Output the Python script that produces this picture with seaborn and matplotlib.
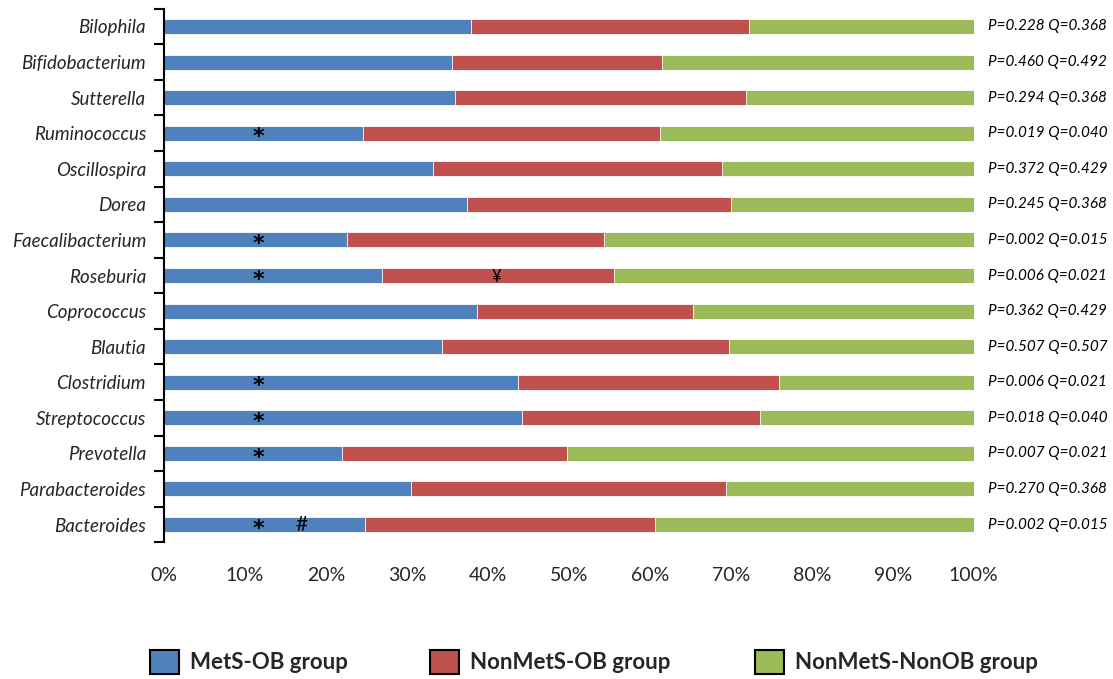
import pandas as pd
import matplotlib.pyplot as plt
import matplotlib.patches as mpatches
from matplotlib.ticker import FixedLocator
import seaborn as sns

# relative abundance (%) of each genus across the three groups
genera = ["Bilophila", "Bifidobacterium", "Sutterella", "Ruminococcus", "Oscillospira",
          "Dorea", "Faecalibacterium", "Roseburia", "Coprococcus", "Blautia",
          "Clostridium", "Streptococcus", "Prevotella", "Parabacteroides", "Bacteroides"]
mets_ob = [37.9, 35.6, 35.9, 24.6, 33.2, 37.4, 22.6, 26.9, 38.6, 34.3, 43.7, 44.2, 22.0, 30.5, 24.8]
nonmets_ob = [34.4, 25.9, 36.0, 36.7, 35.7, 32.6, 31.7, 28.7, 26.7, 35.5, 32.2, 29.4, 27.8, 38.9, 35.8]
nonmets_nonob = [27.7, 38.5, 28.1, 38.7, 31.1, 30.0, 45.7, 44.4, 34.7, 30.2, 24.1, 26.4, 50.2, 30.6, 39.4]
p_values = ["0.228", "0.460", "0.294", "0.019", "0.372", "0.245", "0.002", "0.006",
            "0.362", "0.507", "0.006", "0.018", "0.007", "0.270", "0.002"]
q_values = ["0.368", "0.492", "0.368", "0.040", "0.429", "0.368", "0.015", "0.021",
            "0.429", "0.507", "0.021", "0.040", "0.021", "0.368", "0.015"]
star_marks = [0, 0, 0, 1, 0, 0, 1, 1, 0, 0, 1, 1, 1, 0, 1]
hash_marks = [0, 0, 0, 0, 0, 0, 0, 0, 0, 0, 0, 0, 0, 0, 1]
yen_marks = [0, 0, 0, 0, 0, 0, 0, 1, 0, 0, 0, 0, 0, 0, 0]

groups = ["MetS-OB group", "NonMetS-OB group", "NonMetS-NonOB group"]
colors = ["#4F81BD", "#C0504D", "#9BBB59"]

df = pd.DataFrame({"genus": genera, "mets_ob": mets_ob,
                   "nonmets_ob": nonmets_ob, "nonmets_nonob": nonmets_nonob})
df["cum_red"] = df["mets_ob"] + df["nonmets_ob"]
df["cum_green"] = df["cum_red"] + df["nonmets_nonob"]

sns.set_theme(style="white")
plt.rcParams["font.family"] = ["Lato", "DejaVu Sans"]

fig = plt.figure(figsize=(11.13, 6.79), dpi=100)
ax = fig.add_axes([0.1474, 0.2013, 0.7274, 0.7859])

# stacked bars: draw cumulative totals back to front
for col, c in zip(["cum_green", "cum_red", "mets_ob"], colors[::-1]):
    sns.barplot(data=df, x=col, y="genus", orient="h", color=c, saturation=1,
                width=0.42, edgecolor="white", linewidth=0.6, ax=ax)

ax.set_xlim(0, 100)
ax.set_ylim(len(genera) - 0.5, -0.5)
ax.set_xlabel("")
ax.set_ylabel("")
ax.set_xticks(range(0, 101, 10))
ax.set_xticklabels([f"{v}%" for v in range(0, 101, 10)], fontsize=14)
ax.set_yticks(range(len(genera)))
ax.set_yticklabels(genera, fontsize=13.5, style="italic")
ax.yaxis.set_minor_locator(FixedLocator([i - 0.5 for i in range(len(genera) + 1)]))
ax.tick_params(axis="x", length=0, pad=18)
ax.tick_params(axis="y", which="major", length=0, pad=13)
ax.tick_params(axis="y", which="minor", left=True, length=7, width=1.5, color="black", direction="out")

for s in ["top", "right", "bottom"]:
    ax.spines[s].set_visible(False)
ax.spines["left"].set_color("black")
ax.spines["left"].set_linewidth(1.5)

# significance marks
for i in range(len(genera)):
    if star_marks[i]:
        ax.text(11.6, i + 0.12, "*", ha="center", va="center", fontsize=16,
                fontweight="bold", color="black", family="DejaVu Sans")
    if hash_marks[i]:
        ax.text(17.0, i, "#", ha="center", va="center", fontsize=15, color="black")
    if yen_marks[i]:
        ax.text(41.1, i + 0.05, "¥", ha="center", va="center", fontsize=12, color="black")
    ax.text(101.8, i, f"P={p_values[i]} Q={q_values[i]}", ha="left", va="center",
            fontsize=11, style="italic", color="black", clip_on=False)

# legend entries placed individually along the bottom
legend_x = [150, 430, 755]
for g, c, x in zip(groups, colors, legend_x):
    h = mpatches.Patch(facecolor=c, edgecolor="black", linewidth=1.5, label=g)
    fig.legend(handles=[h], loc="center left", bbox_to_anchor=(x / 1113, 1 - 662 / 679),
               frameon=False, borderpad=0, borderaxespad=0, handlelength=1.3,
               handleheight=1.35, handletextpad=0.5, prop={"size": 16, "weight": "bold"})

fig.savefig("out.png", dpi=100)
